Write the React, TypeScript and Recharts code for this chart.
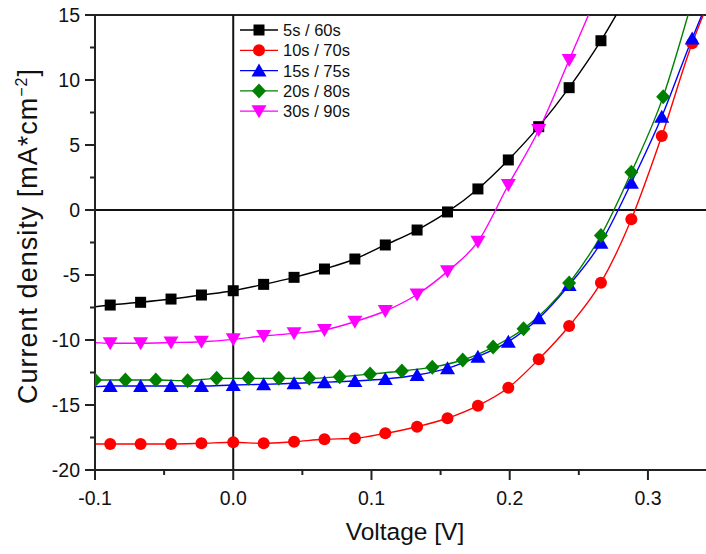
import React from 'react';
import { LineChart, Line, XAxis, YAxis, ReferenceLine, Legend } from 'recharts';

const FONT = '"Liberation Sans", Arial, sans-serif';

// marker points: voltage [V] and current density [mA/cm2]
const blackV = [-0.089, -0.067, -0.045, -0.023, 0.0, 0.022, 0.044, 0.066, 0.088, 0.11, 0.133, 0.155, 0.177, 0.199, 0.221, 0.243, 0.266];
const blackJ = [-7.31, -7.1, -6.85, -6.54, -6.21, -5.72, -5.18, -4.54, -3.77, -2.69, -1.54, -0.15, 1.62, 3.85, 6.41, 9.41, 13.02];

const redV = [-0.089, -0.067, -0.045, -0.023, 0.0, 0.022, 0.044, 0.066, 0.088, 0.11, 0.133, 0.155, 0.177, 0.199, 0.221, 0.243, 0.266, 0.288, 0.31, 0.332];
const redJ = [-18.0, -18.0, -18.0, -17.95, -17.87, -17.95, -17.82, -17.64, -17.56, -17.18, -16.67, -16.02, -15.05, -13.67, -11.48, -8.92, -5.59, -0.71, 5.69, 12.82];

const blueV = [-0.089, -0.067, -0.045, -0.023, 0.0, 0.022, 0.044, 0.066, 0.088, 0.11, 0.133, 0.155, 0.177, 0.199, 0.221, 0.243, 0.266, 0.288, 0.31, 0.332];
const blueJ = [-13.54, -13.54, -13.54, -13.54, -13.46, -13.41, -13.33, -13.25, -13.15, -13.0, -12.69, -12.18, -11.28, -10.13, -8.33, -5.77, -2.52, 2.1, 7.18, 13.2];

const greenV = [-0.1, -0.078, -0.056, -0.033, -0.012, 0.011, 0.033, 0.055, 0.077, 0.099, 0.122, 0.144, 0.166, 0.188, 0.21, 0.243, 0.266, 0.288, 0.311];
const greenJ = [-13.08, -13.08, -13.08, -13.13, -12.95, -12.95, -12.95, -12.95, -12.82, -12.62, -12.38, -12.09, -11.54, -10.54, -9.14, -5.62, -1.96, 2.9, 8.72];

const magentaV = [-0.089, -0.067, -0.045, -0.023, 0.0, 0.022, 0.044, 0.066, 0.088, 0.11, 0.133, 0.155, 0.177, 0.199, 0.221, 0.243];
const magentaJ = [-10.25, -10.25, -10.2, -10.13, -9.95, -9.69, -9.49, -9.23, -8.59, -7.77, -6.5, -4.72, -2.44, 1.92, 6.15, 11.54];

// where each fitted curve meets the frame (no marker drawn there)
const blackEnds = [[-0.1, -7.44], [0.277, 15]];
const redEnds = [[-0.1, -18.0], [0.34, 15]];
const blueEnds = [[-0.1, -13.59], [0.339, 15]];
const greenEnds = [null, [0.329, 15]];
const magentaEnds = [[-0.1, -10.2], [0.257, 15]];

const labels = ['5s / 60s', '10s / 70s', '15s / 75s', '20s / 80s', '30s / 90s'];
const colors = ['#000000', '#ff0000', '#0000ff', '#008000', '#ff00ff'];
const shapes = ['square', 'circle', 'triangle', 'diamond', 'triangleDown'];

const xTicks = [-0.1, -0.05, 0, 0.05, 0.1, 0.15, 0.2, 0.25, 0.3];
const yTicks = [-20, -17.5, -15, -12.5, -10, -7.5, -5, -2.5, 0, 2.5, 5, 7.5, 10, 12.5, 15];

function build(vs: number[], js: number[], ends: any[]) {
  const pts = vs.map((v, i) => ({ v, j: js[i], m: true }));
  if (ends[0]) pts.unshift({ v: ends[0][0], j: ends[0][1], m: false });
  if (ends[1]) pts.push({ v: ends[1][0], j: ends[1][1], m: false });
  return pts;
}

const series = [
  build(blackV, blackJ, blackEnds),
  build(redV, redJ, redEnds),
  build(blueV, blueJ, blueEnds),
  build(greenV, greenJ, greenEnds),
  build(magentaV, magentaJ, magentaEnds),
];

function marker(shape: string, cx: number, cy: number, color: string, key?: string) {
  switch (shape) {
    case 'square':
      return <rect key={key} x={cx - 5.5} y={cy - 5.5} width={11} height={11} fill={color} />;
    case 'circle':
      return <circle key={key} cx={cx} cy={cy} r={6} fill={color} />;
    case 'triangle':
      return <polygon key={key} points={`${cx},${cy - 7} ${cx - 7.5},${cy + 6} ${cx + 7.5},${cy + 6}`} fill={color} />;
    case 'triangleDown':
      return <polygon key={key} points={`${cx},${cy + 7} ${cx - 7.5},${cy - 6} ${cx + 7.5},${cy - 6}`} fill={color} />;
    default:
      return <polygon key={key} points={`${cx},${cy - 7.5} ${cx + 7},${cy} ${cx},${cy + 7.5} ${cx - 7},${cy}`} fill={color} />;
  }
}

const XTick = (props: any) => {
  const { x, y, payload } = props;
  const v = payload.value;
  const major = Math.abs(v * 10 - Math.round(v * 10)) < 1e-6;
  return (
    <g>
      <line x1={x} x2={x} y1={y} y2={y + (major ? 10 : 5)} stroke="#222" strokeWidth={2} />
      {major && (
        <text x={x} y={y + 21} dy="0.71em" textAnchor="middle" fontFamily={FONT} fontSize={19.5} fill="#111">
          {v.toFixed(1)}
        </text>
      )}
    </g>
  );
};

const YTick = (props: any) => {
  const { x, y, payload } = props;
  const v = payload.value;
  const major = v % 5 === 0;
  return (
    <g>
      <line x1={x - (major ? 10 : 5)} x2={x} y1={y} y2={y} stroke="#222" strokeWidth={2} />
      {major && (
        <text x={x - 15} y={y} dy="0.355em" textAnchor="end" fontFamily={FONT} fontSize={19.5} fill="#111">
          {v}
        </text>
      )}
    </g>
  );
};

const LegendBox = () => (
  <svg width={140} height={106} style={{ display: 'block' }}>
    {labels.map((label, i) => {
      const cy = 12 + i * 20.3;
      return (
        <g key={label}>
          <line x1={4} x2={42} y1={cy} y2={cy} stroke={colors[i]} strokeWidth={1.3} />
          {marker(shapes[i], 23, cy, colors[i])}
          <text x={47} y={cy} dy="0.36em" fontFamily={FONT} fontSize={16.5} fill="#111">
            {label}
          </text>
        </g>
      );
    })}
  </svg>
);

export default function App() {
  return (
    <div style={{ position: 'absolute', left: 0, top: 0, background: '#fff' }}>
      <LineChart width={706} height={554} margin={{ top: 15, right: 0, left: 25, bottom: 44 }}>
        <XAxis
          type="number"
          dataKey="v"
          domain={[-0.1, 0.342]}
          allowDataOverflow
          ticks={xTicks}
          interval={0}
          tickSize={0}
          tickMargin={0}
          tickLine={false}
          tick={<XTick />}
          axisLine={{ stroke: '#222', strokeWidth: 2 }}
          height={40}
        />
        <YAxis
          type="number"
          dataKey="j"
          domain={[-20, 15]}
          allowDataOverflow
          ticks={yTicks}
          interval={0}
          tickSize={0}
          tickMargin={0}
          tickLine={false}
          tick={<YTick />}
          axisLine={{ stroke: '#222', strokeWidth: 2 }}
          width={70}
        />
        <ReferenceLine y={15} stroke="#222" strokeWidth={2} />
        <ReferenceLine x={0} stroke="#111" strokeWidth={2} />
        <ReferenceLine y={0} stroke="#111" strokeWidth={2} />
        {series.map((data, i) => (
          <Line
            key={labels[i]}
            data={data}
            dataKey="j"
            name={labels[i]}
            type="monotone"
            stroke={colors[i]}
            strokeWidth={1.4}
            isAnimationActive={false}
            activeDot={false}
            dot={(p: any) =>
              p.payload.m ? marker(shapes[i], p.cx, p.cy, colors[i], `${i}-${p.index}`) : <g key={`${i}-${p.index}`} />
            }
          />
        ))}
        <Legend
          layout="vertical"
          align="center"
          verticalAlign="middle"
          content={() => <LegendBox />}
          wrapperStyle={{ left: 236, top: 18, width: 140, height: 106 }}
        />
        <text x={405} y={540} textAnchor="middle" fontFamily={FONT} fontSize={24.5} fill="#111">
          Voltage [V]
        </text>
        <text
          transform="translate(37,236) rotate(-90)"
          textAnchor="middle"
          fontFamily={FONT}
          fontSize={27}
          letterSpacing={1}
          fill="#111"
        >
          Current density [mA*cm
          <tspan dy={-10} fontSize={16}>−2</tspan>
          <tspan dy={10}>]</tspan>
        </text>
      </LineChart>
    </div>
  );
}
